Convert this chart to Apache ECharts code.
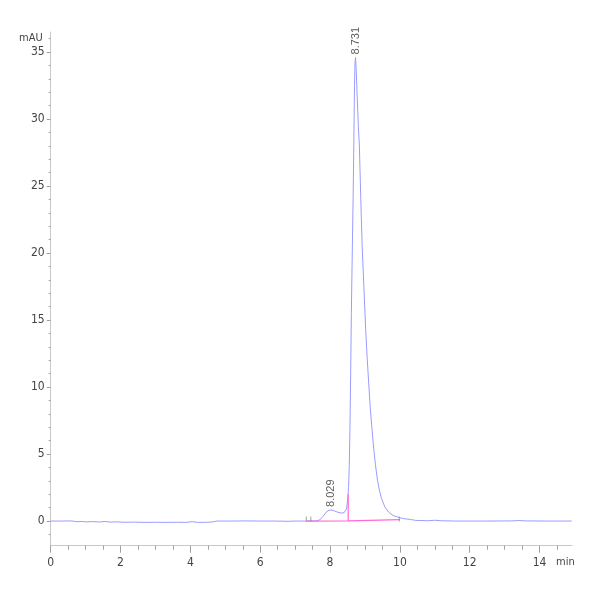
<!DOCTYPE html>
<html><head><meta charset="utf-8">
<script src="https://cdn.jsdelivr.net/npm/echarts@6/dist/echarts.min.js"></script>
<style>html,body{margin:0;padding:0;background:#fff}#c{width:600px;height:600px}</style>
</head><body><div id="c"></div>
<script>
// Chromatogram trace (time in min, signal in mAU)
const traceTimes = [0,0.3,0.6,0.75,0.9,1.0,1.2,1.4,1.55,1.7,1.9,2.1,2.4,2.7,3.0,3.3,3.6,3.9,4.05,4.2,4.5,4.65,4.75,5.2,5.6,6.0,6.4,6.8,7.0,7.3,7.5,7.6,7.7,7.8,7.9,7.97,8.03,8.12,8.22,8.32,8.4,8.47,8.5,8.53,8.55,8.57,8.59,8.61,8.63,8.66,8.68,8.7,8.715,8.731,8.75,8.78,8.81,8.84,8.88,8.92,8.97,9.02,9.06,9.1,9.15,9.2,9.25,9.3,9.35,9.4,9.47,9.57,9.68,9.8,9.96,10.1,10.3,10.45,10.8,11.0,11.2,11.6,12.5,13.2,13.4,13.6,14.2,14.92];
const traceValues = [0,0,0.01,-0.05,-0.03,-0.06,-0.04,-0.07,-0.03,-0.08,-0.06,-0.09,-0.08,-0.1,-0.09,-0.1,-0.09,-0.1,-0.04,-0.1,-0.09,-0.06,0,0,0.01,0,0,-0.02,0,0,0.01,0.01,0.08,0.35,0.7,0.8,0.83,0.76,0.66,0.6,0.62,0.9,1.5,2.5,4,7,11,15.5,19,24,28,32.5,34.3,34.6,33.6,31.5,29.5,28,24,20.5,17.4,14.3,12.3,10.6,8.5,6.9,5.4,4.2,3.2,2.45,1.7,1.05,0.65,0.42,0.28,0.18,0.12,0.05,0.02,0.06,0.02,0,0,0.01,0.04,0.01,0,0];
// Integration baseline / drop line
const baseTimes = [7.32,8.52,8.52,8.52,10.0];
const baseValues = [0,0.02,2.0,0.02,0.1];
// Integration event marks
const eventTimes = [7.32,7.45,9.98];
// Peak annotations
const peakTimes = [8.029,8.731];
const peakHeights = [0.83,34.6];
const peakLabels = ['8.029','8.731'];
// Axis ticks
const xMajorTicks = [0,2,4,6,8,10,12,14];
const xMinorTicks = [0.5,1,1.5,2.5,3,3.5,4.5,5,5.5,6.5,7,7.5,8.5,9,9.5,10.5,11,11.5,12.5,13,13.5,14.5];
const yMajorTicks = [0,5,10,15,20,25,30,35];
const yMinorTicks = [-1,1,2,3,4,6,7,8,9,11,12,13,14,16,17,18,19,21,22,23,24,26,27,28,29,31,32,33,34,36];
const xName = 'min';
const yName = 'mAU';

const XMIN = 0, XMAX = 14.92, YMIN = -1.84, YMAX = 36.5;
const FONT = "'Liberation Sans Narrow','DejaVu Sans Condensed',sans-serif";
const zip = (a, b) => a.map((v, i) => [v, b[i]]);

const chart = echarts.init(document.getElementById('c'), null, {renderer: 'canvas'});
chart.setOption({
  animation: false,
  backgroundColor: '#fff',
  grid: {left: 50.7, right: 28.3, top: 32, bottom: 54.3, containLabel: false},
  xAxis: [{
    type: 'value', min: XMIN, max: XMAX,
    name: xName, nameLocation: 'end', nameGap: 3,
    nameTextStyle: {fontFamily: FONT, fontSize: 11, color: '#444', align: 'right', verticalAlign: 'top', padding: [11, 0, 0, 0]},
    axisLine: {show: true, onZero: false, lineStyle: {color: '#c8c8c8', width: 1}},
    axisTick: {show: true, customValues: xMajorTicks, length: 7, lineStyle: {color: '#a0a0a0'}},
    axisLabel: {customValues: xMajorTicks, fontFamily: FONT, fontSize: 12, color: '#444', margin: 11},
    splitLine: {show: false}
  }, {
    type: 'value', min: XMIN, max: XMAX, position: 'bottom',
    axisLine: {show: false, onZero: false},
    axisTick: {show: true, customValues: xMinorTicks, length: 4, lineStyle: {color: '#a0a0a0'}},
    axisLabel: {show: false},
    splitLine: {show: false}
  }],
  yAxis: [{
    type: 'value', min: YMIN, max: YMAX,
    name: yName, nameLocation: 'end', nameGap: -6,
    nameTextStyle: {fontFamily: FONT, fontSize: 11, color: '#444', align: 'right', verticalAlign: 'middle', padding: [0, 8, 0, 0]},
    axisLine: {show: true, lineStyle: {color: '#c8c8c8', width: 1}},
    axisTick: {show: true, customValues: yMajorTicks, length: 4, lineStyle: {color: '#a0a0a0'}},
    axisLabel: {customValues: yMajorTicks, fontFamily: FONT, fontSize: 12, color: '#444', margin: 6},
    splitLine: {show: false}
  }, {
    type: 'value', min: YMIN, max: YMAX, position: 'left',
    axisLine: {show: false},
    axisTick: {show: true, customValues: yMinorTicks, length: 2, lineStyle: {color: '#a0a0a0'}},
    axisLabel: {show: false},
    splitLine: {show: false}
  }],
  series: [{
    type: 'line', name: 'trace', data: zip(traceTimes, traceValues),
    showSymbol: false, symbol: 'none', smooth: false,
    lineStyle: {color: '#9a9cff', width: 1}, z: 2
  }, {
    type: 'line', name: 'baseline', data: zip(baseTimes, baseValues),
    showSymbol: false, symbol: 'none',
    lineStyle: {color: '#ff6ad5', width: 1.2}, z: 3
  }, {
    type: 'scatter', name: 'events', data: eventTimes.map(t => [t, 0.15]),
    symbol: 'rect', symbolSize: [1, 5], itemStyle: {color: '#888'}, z: 4
  }, {
    type: 'scatter', name: 'peaks', data: peakTimes.map((t, i) => ({value: [t, peakHeights[i]], name: peakLabels[i]})),
    symbolSize: 0, z: 5,
    label: {
      show: true, position: 'top', distance: 3, rotate: 90,
      align: 'left', verticalAlign: 'middle',
      formatter: p => p.name,
      fontFamily: "'Liberation Sans','DejaVu Sans',sans-serif", fontSize: 11, color: '#333'
    }
  }]
});
</script>
</body></html>
